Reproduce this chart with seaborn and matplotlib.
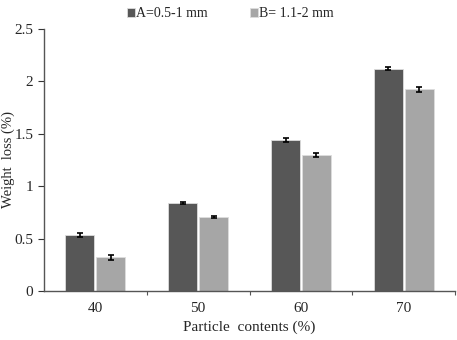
import pandas as pd
import matplotlib.pyplot as plt
import seaborn as sns

# data
contents = ['40', '50', '60', '70']
loss_a = [0.535, 0.84, 1.44, 2.12]
loss_b = [0.32, 0.705, 1.295, 1.925]
err_a = [0.02, 0.01, 0.02, 0.015]
err_b = [0.02, 0.01, 0.02, 0.025]
labels = ['A=0.5-1 mm', 'B= 1.1-2 mm']

df = pd.DataFrame({
    'content': contents * 2,
    'loss': loss_a + loss_b,
    'err': err_a + err_b,
    'size': [labels[0]] * 4 + [labels[1]] * 4,
})

sns.set_style('ticks')
plt.rcParams['font.family'] = ['Liberation Serif', 'DejaVu Serif']

fig = plt.figure(figsize=(4.57, 3.4), dpi=100)
ax = fig.add_axes([0.096, 0.144, 0.9, 0.771])

sns.barplot(data=df, x='content', y='loss', hue='size', palette=['#575757', '#a6a6a6'],
            width=0.6, gap=0.06, errorbar=None, edgecolor='#dddddd', linewidth=0.6, ax=ax)

# error bars on the bar centres
for cont, errs in zip(ax.containers, [err_a, err_b]):
    xs = [p.get_x() + p.get_width() / 2 for p in cont]
    ys = [p.get_height() for p in cont]
    ax.errorbar(xs, ys, yerr=errs, fmt='none', ecolor='black', elinewidth=1.2, capsize=2.5, capthick=1.2)

ax.set_ylim(0, 2.5)
ax.set_yticks([0, 0.5, 1, 1.5, 2, 2.5])
ax.set_yticklabels(['0', '0.5', '1', '1.5', '2', '2.5'])
ax.set_xlim(-0.5, 3.5)
ax.set_xticks([0.5, 1.5, 2.5, 3.5])
ax.set_xticklabels([])
ax.tick_params(axis='x', which='major', length=3, color='#555555', pad=0)
for i, c in enumerate(contents):
    ax.text(i, -0.1, c, ha='center', va='top', fontsize=11)
ax.tick_params(axis='y', length=4, labelsize=11, color='#333333')

ax.set_xlabel('Particle  contents (%)', fontsize=11, labelpad=18)
ax.set_ylabel('Weight  loss (%)', fontsize=10.5)
ax.yaxis.set_label_coords(-0.07, 0.5)
sns.despine(ax=ax)
for s in ['left', 'bottom']:
    ax.spines[s].set_color('#555555')
    ax.spines[s].set_linewidth(1)

ax.legend(loc='center', bbox_to_anchor=(0.453, 1.058), ncol=2, frameon=False,
          fontsize=10, handlelength=0.6, handleheight=0.6, handletextpad=0.1, columnspacing=3)

plt.savefig('out.png', dpi=100)
